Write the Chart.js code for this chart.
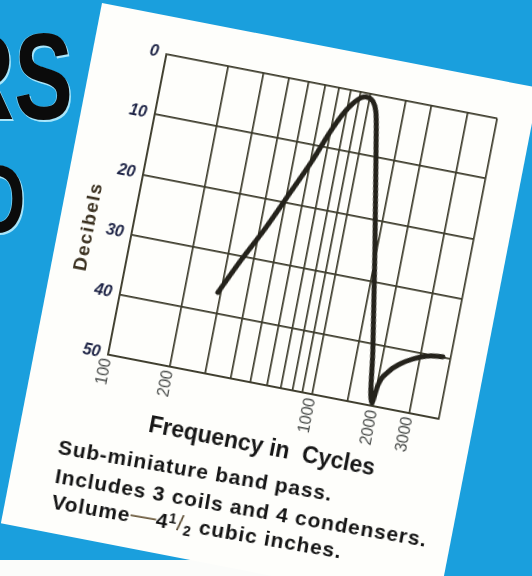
<!DOCTYPE html>
<html>
<head>
<meta charset="utf-8">
<script src="https://cdn.jsdelivr.net/npm/chart.js@4.4.1/dist/chart.umd.min.js"></script>
<style>
  html, body { margin: 0; padding: 0; }
  body {
    width: 532px; height: 576px; overflow: hidden; position: relative;
    background: #1a9fdd;
    font-family: "Liberation Sans", Arial, sans-serif;
  }
  .big {
    position: absolute; white-space: nowrap; text-align: right;
    font-weight: bold; line-height: 1; color: #0b0b0b;
    transform: scaleX(0.72); transform-origin: right top;
    text-shadow: 2px 2px 0 #a9e6fb, -1px 0 0 #7cd3f6;
  }
  #rs { right: 459px; top: 16px; font-size: 122px; }
  #nd { right: 506px; top: 150px; font-size: 98px; }
  #strip { position: absolute; left: 0; top: 560px; width: 442px; height: 16px; background: #fbfcfa; }
  #paper {
    position: absolute; left: 102px; top: 3px; width: 445px; height: 530px;
    background: #fefefb; transform-origin: 0 0; transform: rotate(11deg);
  }
  #chart { position: absolute; left: 0; top: 0; }
  #ytitle {
    position: absolute; left: 29px; top: 222px; white-space: nowrap;
    transform: translate(-50%, -50%) rotate(-90deg);
    font-size: 19px; font-weight: bold; letter-spacing: 1.5px; color: #3a301f;
  }
  #caption { position: absolute; left: 0; top: 0; transform-origin: 42px 451px; transform: rotate(-1.2deg); }
  .cap {
    position: absolute; white-space: nowrap; font-size: 21px; line-height: 21px;
    font-weight: bold; letter-spacing: 0.9px; color: #141414;
  }
  .dash { font-weight: normal; color: #6b5a3c; letter-spacing: 0; font-size: 26px; }
  .fr { font-size: 14px; }
  .fr sup { vertical-align: 6px; font-size: 14px; }
  .fr sub { vertical-align: -4px; font-size: 14px; }
  .fr .sl { font-weight: normal; font-size: 22px; color: #5a4a30; }
</style>
</head>
<body>
<div class="big" id="rs">ERS</div>
<div class="big" id="nd">ND</div>
<div id="strip"></div>
<div id="paper">
  <canvas id="chart" width="440" height="430"></canvas>
  <div id="ytitle">Decibels</div>
  <div id="caption">
    <div class="cap" style="left:42px;top:433px">Sub-miniature band pass.</div>
    <div class="cap" style="left:44px;top:462px">Includes 3 coils and 4 condensers.</div>
    <div class="cap" style="left:45px;top:485px">Volume<span class="dash">—</span>4<span class="fr"><sup>1</sup><span class="sl">/</span><sub>2</sub></span> cubic inches.</div>
  </div>
</div>
<script>
// ==============================================
// Datos (frecuencia en ciclos, atenuacion en dB)
// ==============================================
const freqHz = [290, 345, 425, 515, 615, 700, 775, 840, 905, 960, 1045, 1105,
                1200, 1465, 1770, 1960, 2015, 2185, 2450, 2790, 3230, 3850];
const lossDb = [36.6, 31.0, 24.8, 18.4, 12.4, 7.4, 4.1, 2.2, 1.0, 0.6, 1.1, 2.7,
                8.8, 24.9, 41.0, 49.5, 46.5, 44.1, 42.4, 41.2, 40.3, 39.9];

// lineas verticales del papel logaritmico
const gridFreqs = [100, 200, 300, 400, 500, 600, 700, 800, 900, 1000, 1500, 2000, 3000];
const freqLabels = [100, 200, 1000, 2000, 3000];
const freqMin = 100;
const freqMax = 4200;   // borde derecho del papel

const dbMin = 0;
const dbMax = 50;
const dbStep = 10;

const gridColor = "#3b3a2a";

new Chart(document.getElementById("chart"), {
    type: "line",
    data: {
        datasets: [{
            data: freqHz.map((f, i) => ({ x: f, y: lossDb[i] })),
            borderColor: "#24221b",
            borderWidth: 5,
            borderCapStyle: "round",
            borderJoinStyle: "round",
            pointRadius: 0,
            cubicInterpolationMode: "monotone",
            fill: false
        }]
    },
    options: {
        responsive: false,
        animation: false,
        layout: { padding: { top: 38, right: 30, left: 0, bottom: 0 } },
        plugins: { legend: { display: false }, tooltip: { enabled: false } },
        scales: {
            x: {
                type: "logarithmic",
                min: freqMin,
                max: freqMax,
                afterBuildTicks: (scale) => {
                    scale.ticks = gridFreqs.concat([freqMax]).map(v => ({ value: v }));
                },
                afterFit: (scale) => { scale.height = 86; },
                grid: { color: gridColor, lineWidth: 1.7, drawTicks: false },
                border: { color: gridColor, width: 1.7 },
                ticks: {
                    autoSkip: false,
                    minRotation: 90,
                    maxRotation: 90,
                    padding: 4,
                    color: "#4a4d4b",
                    font: { family: "Liberation Sans", size: 16 },
                    callback: (v) => freqLabels.includes(v) ? String(v) : ""
                },
                title: {
                    display: true,
                    text: "Frequency in  Cycles",
                    color: "#161616",
                    font: { family: "Liberation Sans", size: 23, weight: "bold" },
                    padding: { top: 0, bottom: 11 }
                }
            },
            y: {
                type: "linear",
                reverse: true,
                min: dbMin,
                max: dbMax,
                afterFit: (scale) => { scale.width = 73; },
                grid: { color: gridColor, lineWidth: 1.7, drawTicks: false },
                border: { color: gridColor, width: 1.7 },
                ticks: {
                    stepSize: dbStep,
                    padding: 8,
                    color: "#1f2547",
                    font: { family: "Liberation Sans", size: 16, style: "italic", weight: "bold" }
                }
            }
        }
    }
});
</script>
</body>
</html>
